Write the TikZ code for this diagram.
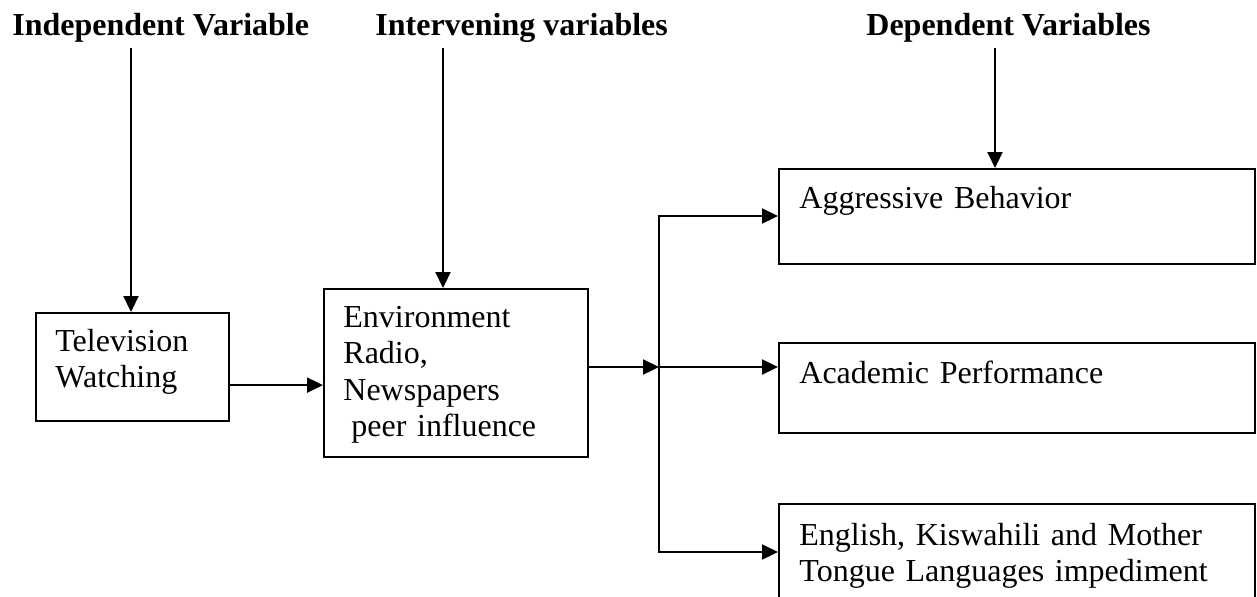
\documentclass[tikz,border=0pt]{standalone}
\usepackage{fontspec}
\setmainfont{Liberation Serif}
\usetikzlibrary{arrows.meta}
\begin{document}
\begin{tikzpicture}[x=0.5pt,y=-0.5pt,
  box/.style={draw, line width=1.1pt, inner sep=0pt, anchor=north west},
  lbl/.style={anchor=base west, inner sep=0pt, text width=#1, align=left,
    font=\fontsize{16}{18.3}\selectfont},
  ttl/.style={anchor=base west, inner sep=0pt, font=\fontsize{16}{18.3}\selectfont\bfseries},
  arr/.style={line width=1.1pt, -{Triangle[length=8pt,width=7.5pt]}},
  ln/.style={line width=1.1pt}]
\useasboundingbox (0,0) rectangle (1257,596);
\clip (0,0) rectangle (1257,596);

% titles
\node[ttl] (tind) at (12,35) {Independent Variable};
\node[ttl] (tint) at (375,35) {Intervening variables};
\node[ttl] (tdep) at (866,35) {Dependent Variables};

% boxes
\node[box, minimum width=96.5pt, minimum height=54pt] (tv) at (35,312) {};
\node[box, minimum width=132pt, minimum height=84pt] (env) at (323,288) {};
\node[box, minimum width=238pt, minimum height=47.5pt] (agg) at (778,168) {};
\node[box, minimum width=238pt, minimum height=45pt] (acad) at (778,342) {};
\node[box, minimum width=238pt, minimum height=60pt] (eng) at (778,503) {};

% box texts
\node[lbl=90pt] (tvt) at (55,351) {Television\\Watching};
\node[lbl=120pt] (envt) at (343,327) {Environment\\Radio,\\Newspapers\\\hspace*{4pt}peer influence};
\node[lbl=220pt] (aggt) at (799,208) {Aggressive Behavior};
\node[lbl=220pt] (acadt) at (799,383) {Academic Performance};
\node[lbl=220pt] (engt) at (799,545) {English, Kiswahili and Mother\\Tongue Languages impediment};

% top arrows
\coordinate (s1) at (131,48);
\coordinate (s2) at (443,48);
\coordinate (s3) at (995,48);
\draw[arr] (s1) -- (s1 |- tv.north);
\draw[arr] (s2) -- (s2 |- env.north);
\draw[arr] (s3) -- (s3 |- agg.north);

% tv -> env
\draw[arr] ([yshift=-9pt]tv.east) -- ([yshift=-9pt]tv.east -| env.west);

% env -> junction
\coordinate (ja) at (659,216);
\coordinate (jb) at (659,367);
\coordinate (jc) at (659,552);
\draw[arr] (env.east |- jb) -- (jb);
\draw[arr] (jc) -- (ja) -- (ja -| agg.west);
\draw[arr] (ja) -- (jc) -- (jc -| eng.west);
\draw[arr] (jb) -- (jb -| acad.west);
\end{tikzpicture}
\end{document}
